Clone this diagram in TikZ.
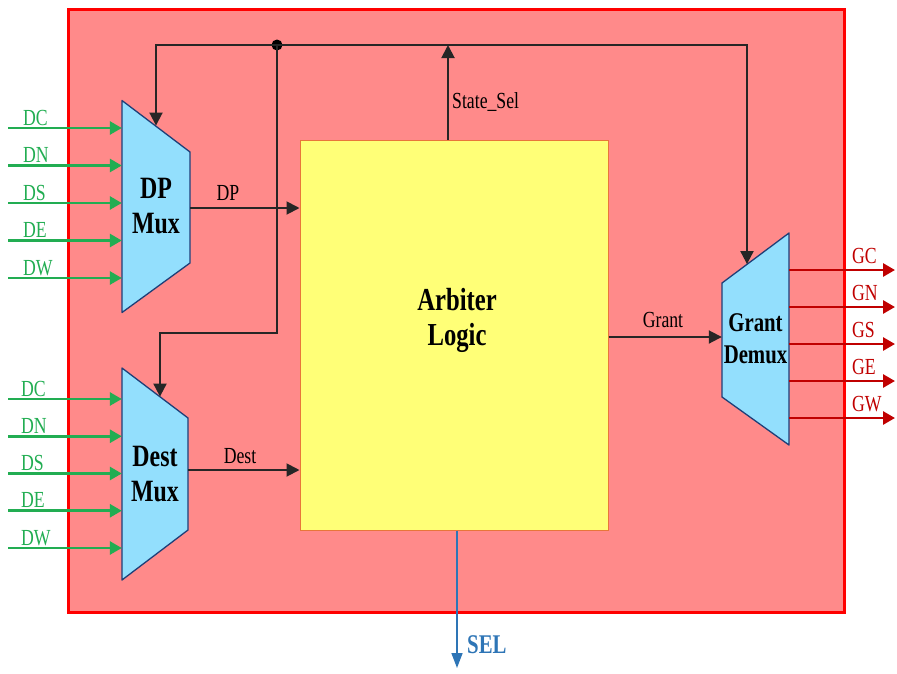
\documentclass[tikz,border=0pt]{standalone}
\usepackage{fontspec}
\setmainfont{Liberation Serif}[FakeStretch=0.77]
\usetikzlibrary{arrows.meta, calc}
\definecolor{boxred}{HTML}{FF0000}
\definecolor{boxfill}{HTML}{FF8A8A}
\definecolor{logicfill}{HTML}{FFFF77}
\definecolor{logicline}{HTML}{E8763A}
\definecolor{muxfill}{HTML}{93DFFD}
\definecolor{muxline}{HTML}{1F3F78}
\definecolor{ingreen}{HTML}{22AD52}
\definecolor{outred}{HTML}{C00000}
\definecolor{selblue}{HTML}{2E75B6}
\tikzset{
    router_box/.style={draw=boxred, line width=3pt, fill=boxfill},
    logic_box/.style={
        rectangle, draw=logicline, line width=1pt, fill=logicfill,
        minimum width=308pt, minimum height=390pt, inner sep=0pt
    },
    mux_body/.style={draw=muxline, line width=1.3pt, fill=muxfill, line join=round},
    mux_lbl/.style={
        rectangle, minimum width=67pt, minimum height=212pt, inner sep=0pt,
        align=center, font=\fontsize{31}{35}\selectfont\bfseries
    },
    sig_arrow/.style={-{Triangle[length=13pt, width=13pt]}, draw=black!85, line width=1.9pt},
    in_arrow/.style={-{Triangle[length=12pt, width=13pt]}, draw=ingreen, line width=2.8pt},
    out_arrow/.style={-{Triangle[length=12pt, width=13pt]}, draw=outred, line width=2.8pt},
    sel_arrow/.style={-{Triangle[length=15pt, width=11pt]}, draw=selblue, line width=1.6pt},
    sig_lbl/.style={inner sep=0pt, anchor=base, font=\fontsize{23}{25}\selectfont},
    in_lbl/.style={inner sep=0pt, anchor=base west, text=ingreen, font=\fontsize{23}{25}\selectfont},
    out_lbl/.style={inner sep=0pt, anchor=base west, text=outred, font=\fontsize{23}{25}\selectfont}
}
\begin{document}
\begin{tikzpicture}[x=1pt, y=-1pt]
    \useasboundingbox (0,0) rectangle (897,673);

    \draw[router_box] (68,9) rectangle (844,612);
    \node[logic_box] (logic) at (454,335) {};
    \node[inner sep=0pt, align=center, font=\fontsize{32}{35}\selectfont\bfseries] (arblbl) at (457,320) {Arbiter\\Logic};

    % mux bodies
    \coordinate (dpc) at (156,206.5);
    \coordinate (destc) at (155,474);
    \coordinate (gc) at (755.5,339);
    \draw[mux_body] ($(dpc)+(-34,-106)$) -- ($(dpc)+(34,-54.5)$) -- ($(dpc)+(34,56.5)$) -- ($(dpc)+(-34,106)$) -- cycle;
    \draw[mux_body] ($(destc)+(-33,-106)$) -- ($(destc)+(33,-56)$) -- ($(destc)+(33,56)$) -- ($(destc)+(-33,106)$) -- cycle;
    \draw[mux_body] ($(gc)+(-33.5,-56)$) -- ($(gc)+(33.5,-106)$) -- ($(gc)+(33.5,106)$) -- ($(gc)+(-33.5,58)$) -- cycle;
    \node[mux_lbl, minimum width=68pt, minimum height=213pt] (dpmux) at (dpc) {DP\\Mux};
    \node[mux_lbl, minimum width=66pt] (destmux) at (destc) {Dest\\Mux};
    \node[mux_lbl, font=\fontsize{27}{32}\selectfont\bfseries] (gdemux) at (gc) {Grant\\Demux};

    % inputs and outputs
    \foreach \lbl [count=\i from 0] in {DC,DN,DS,DE,DW} {
        \coordinate (dpin\i) at (8,128+37.5*\i);
        \draw[in_arrow] (dpin\i) -- (dpin\i -| dpmux.west);
        \node[in_lbl] (dplbl\i) at ($(dpin\i)+(15,-3)$) {\lbl};
        \coordinate (destin\i) at (8,399+37.25*\i);
        \draw[in_arrow] (destin\i) -- (destin\i -| destmux.west);
        \node[in_lbl] (destlbl\i) at ($(destin\i)+(13,-3)$) {\lbl};
    }
    \foreach \lbl [count=\i from 0] in {GC,GN,GS,GE,GW} {
        \coordinate (gout\i) at (895,270+37*\i);
        \draw[out_arrow] (gout\i -| gdemux.east) -- (gout\i);
        \node[out_lbl] (glbl\i) at ($(gout\i)+(-43,-7)$) {\lbl};
    }

    % data paths
    \draw[sig_arrow] ($(dpmux.east)+(0,1.5)$) coordinate (dpo) -- (dpo -| logic.west);
    \node[sig_lbl] (dpolbl) at (228,200) {DP};
    \draw[sig_arrow] ($(destmux.east)+(0,-4)$) coordinate (desto) -- (desto -| logic.west);
    \node[sig_lbl] (destolbl) at (240,463) {Dest};
    \draw[sig_arrow] ($(logic.east)+(0,2)$) coordinate (go) -- (go -| gdemux.west);
    \node[sig_lbl] (golbl) at (663,327) {Grant};

    % state select bus
    \coordinate (busdot) at (277,45);
    \fill (busdot) circle (5.5);
    \draw[sig_arrow] ($(logic.north)+(-6,0)$) coordinate (sso) -- (sso |- busdot);
    \node[sig_lbl, anchor=base west] (sslbl) at (452,108) {State\_Sel};
    \draw[sig_arrow] (busdot) -| ($(dpmux.north)+(0,25.75)$);
    \draw[sig_arrow] (busdot) -| ($(gdemux.north)+(-8.5,31.3)$);
    \draw[sig_arrow] (busdot) -- ($(busdot |- destmux.north)+(0,-35)$) -| ($(destmux.north)+(5,28.8)$);

    % select output
    \coordinate (selend) at (457,668);
    \draw[sel_arrow] (selend |- logic.south) -- (selend);
    \node[inner sep=0pt, anchor=base west, text=selblue, font=\fontsize{27}{30}\selectfont\bfseries] (sellbl) at (467,653) {SEL};

\end{tikzpicture}
\end{document}
